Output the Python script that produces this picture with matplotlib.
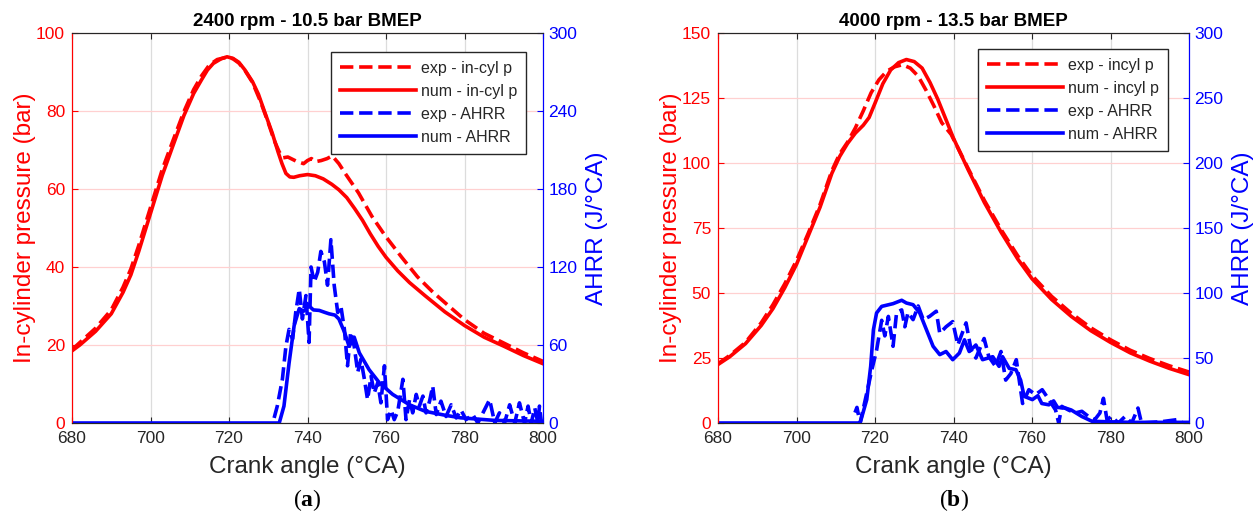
import numpy as np
import matplotlib
matplotlib.use("Agg")
import matplotlib.pyplot as plt

plt.rcParams['font.family'] = ['Liberation Sans', 'DejaVu Sans']
plt.rcParams['mathtext.fontset'] = 'custom'
plt.rcParams['mathtext.rm'] = 'Liberation Serif'
plt.rcParams['mathtext.bf'] = 'Liberation Serif:bold'

RED = '#ff0000'
BLUE = '#0000ff'
DARK = '#262626'

# ---- (a) 2400 rpm - 10.5 bar BMEP ----
ca_p_num_a = [680, 682, 686, 690, 693, 695, 697, 699, 701, 703, 705.5, 708.5, 711, 713, 714.5,
              716, 718, 719.5, 721, 722.5, 724, 726, 727.5, 729, 731, 732.5, 733.5, 734.5,
              735.5, 736.5, 738, 740, 742, 744, 746.2, 748, 750, 752, 754, 756, 758, 760, 763,
              766, 770, 775, 780, 785, 790, 795, 800]
p_num_a = [18.5, 20, 23.5, 28, 33.5, 38, 44, 50.5, 57, 63.5, 70.5, 78.8, 84.5, 88, 90.5,
           92.2, 93.4, 93.9, 93.5, 92.5, 90.6, 87.5, 84.3, 80, 74.4, 69.5, 66.5, 64,
           63.1, 63, 63.4, 63.7, 63.4, 62.6, 61.2, 59.8, 57.8, 55, 52, 48.5, 45.3, 42.5, 39,
           36, 32.6, 28.5, 25, 22, 19.7, 17.3, 15.2]
ca_p_exp_a = [680, 686, 690, 693, 695, 697, 699, 701, 703, 705.5, 708.5, 711, 713, 715, 717,
              719.5, 721, 722.5, 724, 726, 728, 730, 731.5, 732.8, 733.8, 735, 737, 739, 740,
              741, 742, 743.5, 745, 746.3, 748, 749.6, 751.3, 753, 756.4, 759.8, 764,
              768, 772, 776, 780, 785, 790, 795, 800]
p_exp_a = [18.8, 24.3, 29, 34.8, 39.5, 45.5, 52, 58.5, 65, 71.8, 79.8, 85.5, 89, 91.8, 93.2,
           93.8, 93.4, 92.3, 90.5, 87.3, 82.5, 77, 72.5, 69.5, 68, 68.2, 67.2, 66.5, 67.3,
           67.8, 67, 67.3, 67.8, 68.5, 66.5, 64, 61.5, 59, 53, 48, 42.5,
           37.5, 33.5, 30, 26.5, 23, 20.5, 18, 15.8]
ca_hr_num_a = [680, 732.8, 734, 735.3, 736.6, 737.9, 739, 740.4, 741.5, 743, 744.5, 745.5, 747,
               748, 749.4, 750.6, 751.9, 753.2, 755.7, 758.3, 761.7, 766, 770, 775, 779, 787.7, 800]
hr_num_a = [0, 0, 13, 46, 75, 88, 86, 90, 87, 86.6, 85, 84, 83, 80, 70, 59, 66, 54, 41, 31,
            22, 14, 9, 6, 4, 2, 1.3]
ca_hr_exp_a = [731.5, 732.3, 733.6, 734.5, 735.3, 736.2, 737, 737.9, 738.7, 739.6, 740.4, 740.9,
               741.7, 742.6, 743.4, 744.3, 745.1, 745.96, 746.8, 747.7, 748.5, 749.4, 750.2,
               751, 751.9, 752.8, 753.6, 754.5, 755.3, 756.2, 757, 757.9, 758.7, 759.6, 760.4,
               761.3, 762.1, 763, 764.3, 765.1, 766, 766.8, 767.7, 768.5, 769.4, 770.2, 771.1,
               771.9, 772.8, 774, 775.3, 776.6, 777.9, 779.1, 780.4, 782.1, 783.4, 784.7, 786.4,
               787.7, 788.9, 790.2, 791.5, 792.8, 794, 795.3, 796.2, 797, 797.9, 798.7, 799.1,
               799.6]
hr_exp_a = [3.9, 13, 33.6, 59, 72, 64.6, 85, 103, 80, 98, 62, 120, 108.5, 116, 132, 124, 106,
            141, 106, 85, 90, 72, 44, 70, 59, 39, 49, 33.6, 18, 36, 23, 31, 15.5, 44, 2.6,
            10, 2.6, 9, 33.6, 2.6, 18, 7.8, 22, 13, 20.7, 7.8, 16.8, 28.4, 6.5, 16.8, 5, 14,
            3.9, 10, 2.6, 6.5, 0, 7.8, 18, 0, 7.8, 0, 14, 0, 15.5, 0, 13, 0, 11.6, 0, 13, 0]

# ---- (b) 4000 rpm - 13.5 bar BMEP ----
ca_p_num_b = [680, 683, 687, 691, 694, 697, 700, 703, 706, 709, 711, 713, 715, 717, 718.5,
              720, 722, 724, 726, 728, 730, 732, 734, 736, 738, 740, 743.7, 747.9, 752.2,
              756.4, 760, 765, 770, 775, 780, 785, 790, 795, 800]
p_num_b = [22.5, 25.5, 30.5, 37.5, 44, 52, 61, 72, 83, 96, 102.5, 107.5, 111.5, 114.5, 117.5,
           123, 130.5, 135.8, 138.6, 139.8, 139, 136.5, 131, 124.5, 117, 109.5, 97.5, 84.7,
           73.2, 63, 55.5, 47.5, 41, 35.5, 31, 27, 23.8, 21, 18.6]
ca_p_exp_b = [680, 683, 687, 691, 694, 697, 700, 703, 706, 709, 711, 713, 715, 717, 719, 721,
              723, 725, 727, 729, 731, 733, 735, 737, 739.4, 743.7, 747.9, 752.2, 756.4, 760,
              765, 770, 775, 780, 785, 790, 795, 800]
p_exp_b = [22.8, 26, 31, 38.5, 45.5, 53.5, 62.5, 73, 84, 97, 103.5, 108, 113.5, 120, 127, 132,
           135.3, 137, 137.8, 136.5, 133.4, 128, 122, 115.5, 111, 98, 85.5, 74.2, 64.2, 56.7,
           48.7, 42.2, 36.6, 32, 28, 24.8, 22, 19.6]
ca_hr_num_b = [680, 716.2, 717.9, 718.9, 719.6, 720.4, 721.7, 724.6, 726.8, 728, 729.7, 731.4,
               733.1, 734.8, 736.5, 738.1, 739.8, 741.5, 742.8, 744, 745.7, 747.4, 750, 751.6,
               752.5, 754.2, 755.9, 757.1, 758, 760.1, 761.5, 762.5, 764.3, 765.5, 766.5,
               768.5, 770, 772.7, 775.3, 785, 800]
hr_num_b = [0, 0, 18, 43.6, 71.8, 84.6, 89.7, 91.8, 94.4, 92.3, 91, 84.6, 71.8, 59, 52.6,
            55, 48.7, 53.8, 64, 55, 60, 48.7, 51, 43.6, 51, 42, 41, 33, 20.5, 18, 21, 15,
            14, 17, 12, 11.5, 10, 5, 1.3, 0.5, 0.5]
ca_hr_exp_b = [714.9, 715.4, 716.2, 717.9, 719.2, 720.4, 721.7, 722.5, 723.4, 724.6, 725.5,
               726.8, 727.6, 728.4, 729.7, 731, 732.3, 733.9, 735.6, 736.5, 738.1, 739.8,
               741.1, 743.2, 744.5, 745.7, 747.8, 749, 750.7, 752.1, 753.3, 754.6, 756,
               757.6, 759.2, 760.9, 762.6, 764.3, 766, 766.8, 767.6, 769.3, 771, 772.7, 774.4,
               776, 777.3, 778.2, 779.1, 780.3, 782, 783.7, 785.4, 787, 787.9, 793, 797, 798.5]
hr_exp_b = [8, 12, 0, 23, 41, 56, 79, 67, 82, 59, 85, 87, 74, 85, 79.5, 90, 79.5, 82, 86, 69,
            74, 78, 60, 77, 56, 50, 65, 51, 43.6, 55, 33, 38, 48.7, 15, 25.6, 21.8, 25.6, 18,
            10, 0, 12.8, 10, 7.7, 9, 5, 2.6, 7.7, 19, 2.6, 5, 0, 5, 0, 11.5, 0, 1, 2.6, 0]

panels = [
    dict(title='2400 rpm - 10.5 bar BMEP', sub='a', pmax=100, pstep=20, hstep=60,
         lab_p='in-cyl p', left=72 / 1259, legx=0.964, legy=0.951,
         ca_pn=ca_p_num_a, pn=p_num_a, ca_pe=ca_p_exp_a, pe=p_exp_a,
         ca_hn=ca_hr_num_a, hn=hr_num_a, ca_he=ca_hr_exp_a, he=hr_exp_a),
    dict(title='4000 rpm - 13.5 bar BMEP', sub='b', pmax=150, pstep=25, hstep=50,
         lab_p='incyl p', left=718 / 1259, legx=0.955, legy=0.959,
         ca_pn=ca_p_num_b, pn=p_num_b, ca_pe=ca_p_exp_b, pe=p_exp_b,
         ca_hn=ca_hr_num_b, hn=hr_num_b, ca_he=ca_hr_exp_b, he=hr_exp_b),
]

fig = plt.figure(figsize=(12.59, 5.15), dpi=100)
lw = 2.6

for pn in panels:
    ax = fig.add_axes([pn['left'], 92 / 515, 471 / 1259, 390 / 515])
    ax2 = ax.twinx()

    l1, = ax.plot(pn['ca_pe'], pn['pe'], '--', color=RED, lw=lw)
    l2, = ax.plot(pn['ca_pn'], pn['pn'], '-', color=RED, lw=lw)
    l3, = ax2.plot(pn['ca_he'], pn['he'], '--', color=BLUE, lw=lw)
    l4, = ax2.plot(pn['ca_hn'], pn['hn'], '-', color=BLUE, lw=lw)

    ax.set_xlim(680, 800)
    ax.set_ylim(0, pn['pmax'])
    ax2.set_ylim(0, 300)
    ax.set_xticks(np.arange(680, 801, 20))
    ax.set_yticks(np.arange(0, pn['pmax'] + 1, pn['pstep']))
    ax2.set_yticks(np.arange(0, 301, pn['hstep']))

    ax.xaxis.grid(True, color='#dcdcdc', lw=0.9)
    ax.yaxis.grid(True, color='#ffd0d0', lw=0.9)
    ax.set_axisbelow(True)

    for a in (ax, ax2):
        a.spines['top'].set_color(DARK)
        a.spines['bottom'].set_color(DARK)
        a.spines['left'].set_color(RED)
        a.spines['right'].set_color(BLUE)
    ax.tick_params(axis='x', direction='in', top=True, length=4, colors=DARK,
                   labelsize=12.5, pad=6)
    ax.tick_params(axis='y', direction='in', length=4, colors=RED, labelsize=12.5, pad=5)
    ax2.tick_params(axis='y', direction='in', length=4, colors=BLUE, labelsize=12.5, pad=4)

    ax.set_xlabel('Crank angle (°CA)', fontsize=17.5, color=DARK, labelpad=7)
    ax.set_ylabel('In-cylinder pressure (bar)', fontsize=17.5, color=RED, labelpad=0)
    ax2.set_ylabel('AHRR (J/°CA)', fontsize=17.5, color=BLUE, labelpad=6)
    ax.set_title(pn['title'], fontsize=13.5, fontweight='bold', pad=5)

    leg = ax2.legend([l1, l2, l3, l4],
                     ['exp - ' + pn['lab_p'], 'num - ' + pn['lab_p'], 'exp - AHRR', 'num - AHRR'],
                     loc='upper right', bbox_to_anchor=(pn['legx'], pn['legy']),
                     fontsize=11.5, handlelength=4.8, handletextpad=0.3, labelspacing=0.5,
                     borderpad=0.55, fancybox=False, framealpha=1, borderaxespad=0)
    leg.get_frame().set_edgecolor(DARK)
    leg.get_frame().set_linewidth(1)
    for t in leg.get_texts():
        t.set_color(DARK)

    cx = pn['left'] + 0.5 * 471 / 1259
    fig.text(cx, 0.03, r'$\mathrm{(}\mathbf{' + pn['sub'] + r'}\mathrm{)}$', ha='center',
             va='center', fontsize=17)

fig.savefig('out.png', dpi=100)
